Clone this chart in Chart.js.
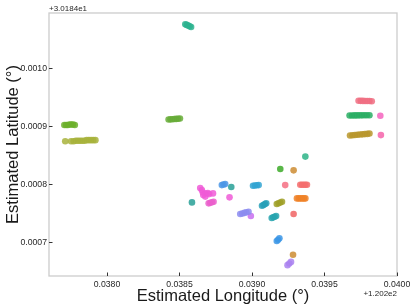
<!DOCTYPE html>
<html>
<head>
<meta charset="utf-8">
<script src="https://cdn.jsdelivr.net/npm/chart.js@4.4.1/dist/chart.umd.min.js"></script>
<style>
    body { margin: 0; background: #fff; }
</style>
</head>
<body>
<canvas id="ChartPosicoes" width="415" height="308"></canvas>
<script>

/// DADOS (longitude - 120.2, latitude - 30.184)

const trackLon = [
    [0.038540, 0.038550, 0.038560, 0.038570, 0.038580],
    [0.037706, 0.037718, 0.037730, 0.037742, 0.037754, 0.037766, 0.037778],
    [0.037712, 0.037752, 0.037770, 0.037785, 0.037800, 0.037815, 0.037830, 0.037845, 0.037860, 0.037875, 0.037890, 0.037905, 0.037920],
    [0.038425, 0.038438, 0.038451, 0.038464, 0.038477, 0.038490, 0.038503],
    [0.039735, 0.039750, 0.039765, 0.039780, 0.039795, 0.039810, 0.039826],
    [0.039673, 0.039690, 0.039707, 0.039724, 0.039741, 0.039758, 0.039775, 0.039792, 0.039810],
    [0.039885],
    [0.039676, 0.039693, 0.039710, 0.039727, 0.039744, 0.039761, 0.039778, 0.039795, 0.039810],
    [0.039889],
    [0.039368],
    [0.039195],
    [0.039287],
    [0.038643, 0.038654, 0.038661, 0.038664, 0.038678, 0.038681, 0.038695, 0.038705, 0.038731],
    [0.038586],
    [0.038701, 0.038712, 0.038724, 0.038735],
    [0.038792, 0.038803, 0.038815],
    [0.038857],
    [0.038845],
    [0.039007, 0.039020, 0.039033, 0.039046],
    [0.039229],
    [0.039333, 0.039345, 0.039357, 0.039368, 0.039379],
    [0.038919, 0.038933, 0.038947, 0.038961, 0.038976],
    [0.038992],
    [0.039069, 0.039079, 0.039089, 0.039098],
    [0.039171, 0.039183, 0.039195, 0.039207],
    [0.039136, 0.039146, 0.039156, 0.039166],
    [0.039287],
    [0.039171, 0.039180, 0.039189],
    [0.039283],
    [0.039310, 0.039322, 0.039334, 0.039346, 0.039358, 0.039368],
    [0.039245, 0.039257, 0.039269]
];

const trackLat = [
    [0.0010755, 0.0010745, 0.0010735, 0.0010722, 0.0010708],
    [0.000902, 0.000902, 0.000902, 0.000903, 0.000903, 0.000903, 0.000902],
    [0.000874, 0.000874, 0.000874, 0.000875, 0.000875, 0.000875, 0.000875, 0.000875, 0.000876, 0.000876, 0.000876, 0.000876, 0.000876],
    [0.0009115, 0.0009118, 0.000912, 0.0009123, 0.0009126, 0.0009129, 0.0009132],
    [0.0009438, 0.0009437, 0.0009436, 0.0009435, 0.0009434, 0.0009433, 0.0009431],
    [0.0009184, 0.0009185, 0.0009186, 0.0009186, 0.0009187, 0.0009187, 0.0009188, 0.0009189, 0.000919],
    [0.000918],
    [0.000884, 0.0008844, 0.0008848, 0.0008852, 0.0008856, 0.000886, 0.0008864, 0.0008868, 0.0008874],
    [0.0008847],
    [0.0008477],
    [0.0008262],
    [0.000824],
    [0.0007935, 0.00079, 0.0007857, 0.0007814, 0.0007788, 0.000784, 0.0007848, 0.0007831, 0.0007843],
    [0.0007688],
    [0.0007671, 0.000768, 0.000769, 0.0007699],
    [0.0007986, 0.0007995, 0.0008003],
    [0.0007952],
    [0.0007775],
    [0.0007974, 0.0007978, 0.0007982, 0.0007986],
    [0.0007986],
    [0.0007991, 0.0007991, 0.0007991, 0.0007991, 0.0007991],
    [0.0007487, 0.0007497, 0.0007507, 0.0007517, 0.0007527],
    [0.0007453],
    [0.000763, 0.0007644, 0.0007658, 0.0007671],
    [0.0007659, 0.0007672, 0.0007686, 0.0007699],
    [0.0007418, 0.000743, 0.0007441, 0.0007453],
    [0.0007487],
    [0.0007022, 0.0007045, 0.0007069],
    [0.0006787],
    [0.0007757, 0.0007757, 0.0007757, 0.0007757, 0.0007757, 0.0007757],
    [0.0006607, 0.0006635, 0.0006663]
];

const lonTicks = [0.0380, 0.0385, 0.0390, 0.0395, 0.0400];
const latTicks = [0.0007, 0.0008, 0.0009, 0.0010];

const lonOffsetLabel = '+1.202e2';
const latOffsetLabel = '+3.0184e1';

// cores de cada trajeto
const trackColor = [
    '#2db38f', '#6cb02c', '#a8b33c', '#68ad3a', '#f06e82', '#2aae64', '#f564be', '#b9962d',
    '#f564aa', '#2db487', '#3caa28', '#cd8c32', '#f05ad7', '#28a096', '#eb5fcd', '#4b96e6',
    '#28a096', '#f05ad7', '#32a5d2', '#f56e82', '#f56e6e', '#8c8cf0', '#c86ef0', '#28a0b9',
    '#a0a028', '#28a5af', '#f06464', '#3c96e6', '#cd8c32', '#f08228', '#aa82f0'
];


/// MOLDURA, TICKS PARA DENTRO E OFFSETS

const molduraPlugin = {
    id: 'moldura',
    afterDraw(chart) {
        const ctx = chart.ctx;
        const area = chart.chartArea;
        const x = chart.scales.x;
        const y = chart.scales.y;

        ctx.save();
        ctx.strokeStyle = '#cccccc';
        ctx.lineWidth = 1.3;
        ctx.strokeRect(area.left, area.top, area.right - area.left, area.bottom - area.top);

        ctx.strokeStyle = '#333333';
        ctx.lineWidth = 1;
        lonTicks.forEach(function (v) {
            const px = Math.round(x.getPixelForValue(v)) + 0.5;
            ctx.beginPath();
            ctx.moveTo(px, area.bottom);
            ctx.lineTo(px, area.bottom - 3.5);
            ctx.stroke();
        });
        latTicks.forEach(function (v) {
            const py = Math.round(y.getPixelForValue(v)) + 0.5;
            ctx.beginPath();
            ctx.moveTo(area.left, py);
            ctx.lineTo(area.left + 3.5, py);
            ctx.stroke();
        });

        ctx.fillStyle = '#262626';
        ctx.font = '8px "Liberation Sans", Arial, sans-serif';
        ctx.textBaseline = 'alphabetic';
        ctx.textAlign = 'left';
        ctx.fillText(latOffsetLabel, area.left, 10.5);
        ctx.textAlign = 'right';
        ctx.fillText(lonOffsetLabel, area.right, 296);
        ctx.restore();
    }
};


const posicoes = document.getElementById('ChartPosicoes');

if (posicoes) {

    var datasets = [];
    trackLon.forEach(function (lons, i) {
        datasets.push({
            label: 'trajeto ' + (i + 1),
            data: lons.map(function (lon, j) {
                return { x: lon, y: trackLat[i][j] };
            }),
            backgroundColor: trackColor[i] + 'd9',
            borderWidth: 0,
            pointRadius: 3.3,
            pointHoverRadius: 3.3
        });
    });

    new Chart(posicoes, {
        type: 'scatter',
        data: {
            datasets: datasets
        },
        options: {
            responsive: false,
            animation: false,
            layout: {
                padding: { top: 13, right: 18, left: 0, bottom: 0 }
            },
            scales: {
                x: {
                    type: 'linear',
                    min: 0.0376,
                    max: 0.0400,
                    afterFit: function (scale) { scale.height = 32; },
                    afterBuildTicks: function (scale) {
                        scale.ticks = lonTicks.map(function (v) { return { value: v }; });
                    },
                    grid: { display: false, drawTicks: false },
                    border: { display: false },
                    ticks: {
                        autoSkip: false,
                        maxRotation: 0,
                        padding: 3,
                        color: '#262626',
                        font: { family: '"Liberation Sans", Arial, sans-serif', size: 8.7 },
                        callback: function (v) { return v.toFixed(4); }
                    },
                    title: {
                        display: true,
                        text: 'Estimated Longitude (°)',
                        color: '#1a1a1a',
                        font: { family: '"Liberation Sans", Arial, sans-serif', size: 16.5 },
                        padding: { top: 0, bottom: 1.2 }
                    }
                },
                y: {
                    type: 'linear',
                    min: 0.000642,
                    max: 0.001095,
                    afterFit: function (scale) { scale.width = 49; },
                    afterBuildTicks: function (scale) {
                        scale.ticks = latTicks.map(function (v) { return { value: v }; });
                    },
                    grid: { display: false, drawTicks: false },
                    border: { display: false },
                    ticks: {
                        autoSkip: false,
                        padding: 2,
                        color: '#262626',
                        font: { family: '"Liberation Sans", Arial, sans-serif', size: 8.7 },
                        callback: function (v) { return v.toFixed(4); }
                    },
                    title: {
                        display: true,
                        text: 'Estimated Latitude (°)',
                        color: '#1a1a1a',
                        font: { family: '"Liberation Sans", Arial, sans-serif', size: 16.5 },
                        padding: { top: 3.7, bottom: 0 }
                    }
                }
            },
            plugins: {
                legend: { display: false },
                tooltip: { enabled: false }
            }
        },
        plugins: [molduraPlugin]
    });

}
</script>
</body>
</html>
